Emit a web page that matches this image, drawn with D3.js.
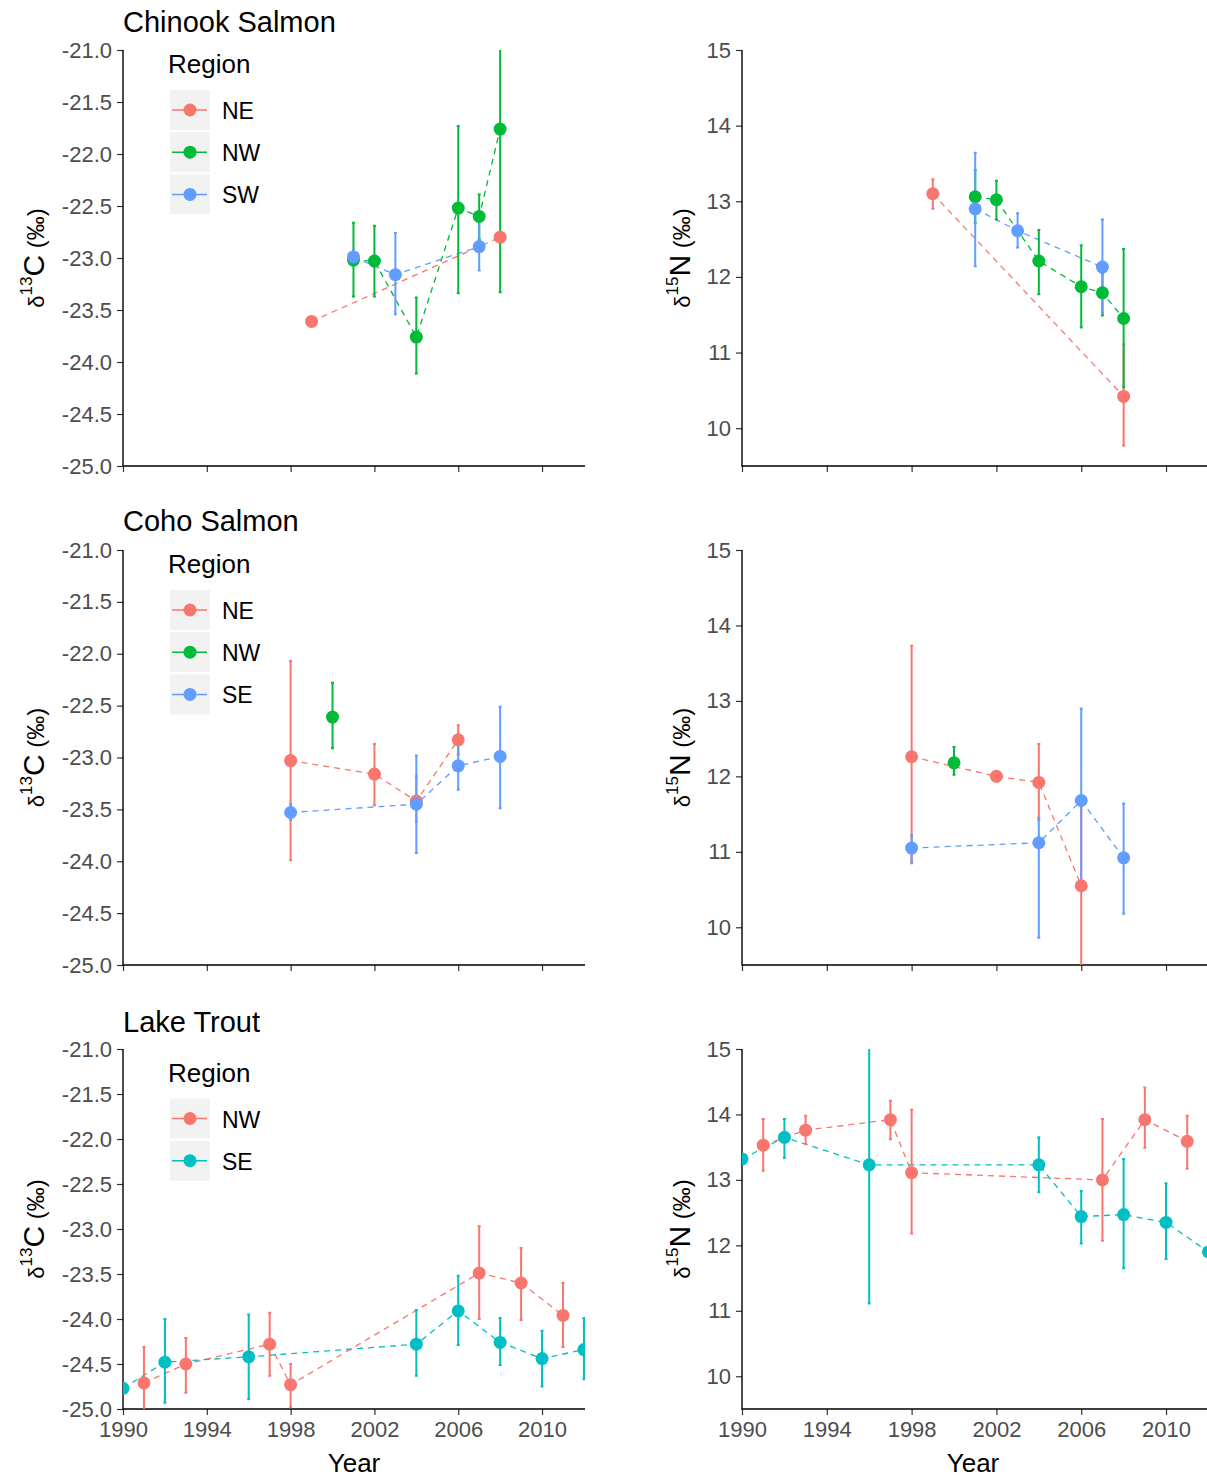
<!DOCTYPE html>
<html>
<head>
<meta charset="utf-8">
<script src="https://cdn.jsdelivr.net/npm/d3@7"></script>
<style>
  body { margin: 0; background: #fff; }
  svg { display: block; }
  text { font-family: "Liberation Sans", Arial, sans-serif; }
</style>
</head>
<body>
<svg id="chart" width="1207" height="1479"></svg>
<script>
// ---- data: rows are [year, mean, upper, lower] ----
const chinookC_NE = [[1999, -23.61, -23.59, -23.63], [2008, -22.80, -22.75, -22.85]];
const chinookC_NW = [[2001, -23.02, -22.66, -23.37], [2002, -23.03, -22.69, -23.37], [2004, -23.76, -23.38, -24.11],
                     [2006, -22.52, -21.73, -23.34], [2007, -22.60, -22.39, -22.82], [2008, -21.76, -20.98, -23.33]];
const chinookC_SW = [[2001, -22.99, -22.92, -23.07], [2003, -23.16, -22.76, -23.54], [2007, -22.89, -22.57, -23.12]];

const chinookN_NE = [[1999, 13.10, 13.29, 12.90], [2008, 10.42, 11.11, 9.77]];
const chinookN_NW = [[2001, 13.06, 13.41, 12.71], [2002, 13.02, 13.27, 12.76], [2004, 12.21, 12.62, 11.77],
                     [2006, 11.87, 12.42, 11.33], [2007, 11.79, 12.05, 11.49], [2008, 11.45, 12.37, 10.54]];
const chinookN_SW = [[2001, 12.90, 13.64, 12.14], [2003, 12.61, 12.84, 12.39], [2007, 12.13, 12.76, 11.53]];

const cohoC_NE = [[1998, -23.03, -22.07, -23.99], [2002, -23.16, -22.87, -23.46], [2004, -23.42, -23.18, -23.62], [2006, -22.83, -22.69, -22.97]];
const cohoC_NW = [[2000, -22.61, -22.28, -22.91]];
const cohoC_SE = [[1998, -23.53, -23.45, -23.60], [2004, -23.45, -22.98, -23.92], [2006, -23.08, -22.87, -23.31], [2008, -22.99, -22.51, -23.49]];

const cohoN_NE = [[1998, 12.26, 13.73, 10.85], [2002, 12.00, 12.02, 11.98], [2004, 11.92, 12.43, 11.42], [2006, 10.55, 11.60, 9.40]];
const cohoN_NW = [[2000, 12.18, 12.39, 12.02]];
const cohoN_SE = [[1998, 11.05, 11.22, 10.87], [2004, 11.12, 11.45, 9.86], [2006, 11.68, 12.90, 10.50], [2008, 10.92, 11.64, 10.18]];

const troutC_NW = [[1991, -24.71, -24.31, -25.05], [1993, -24.50, -24.21, -24.82], [1997, -24.28, -23.93, -24.63], [1998, -24.73, -24.50, -24.98],
                   [2007, -23.49, -22.97, -24.00], [2009, -23.60, -23.21, -24.01], [2011, -23.96, -23.60, -24.31]];
const troutC_SE = [[1990, -24.77, -24.72, -24.82], [1992, -24.48, -24.00, -24.93], [1996, -24.42, -23.95, -24.89], [2004, -24.28, -23.90, -24.63],
                   [2006, -23.91, -23.52, -24.29], [2008, -24.26, -23.99, -24.51], [2010, -24.44, -24.13, -24.75], [2012, -24.34, -23.99, -24.67]];

const troutN_NW = [[1991, 13.53, 13.93, 13.14], [1993, 13.76, 13.98, 13.55], [1997, 13.92, 14.21, 13.62], [1998, 13.11, 14.07, 12.18],
                   [2007, 13.00, 13.93, 12.07], [2009, 13.92, 14.41, 13.49], [2011, 13.59, 13.98, 13.17]];
const troutN_SE = [[1990, 13.32, 13.37, 13.27], [1992, 13.65, 13.93, 13.34], [1996, 13.23, 15.10, 11.11], [2004, 13.23, 13.65, 12.81],
                   [2006, 12.44, 12.83, 12.03], [2008, 12.47, 13.32, 11.65], [2010, 12.35, 12.95, 11.79], [2012, 11.90, 12.20, 11.60]];

const species = ["Chinook Salmon", "Coho Salmon", "Lake Trout"];
const chinookRegions = ["NE", "NW", "SW"];
const cohoRegions = ["NE", "NW", "SE"];
const troutRegions = ["NW", "SE"];

const xTicks = [1990, 1994, 1998, 2002, 2006, 2010];
const carbonTicks = [-21.0, -21.5, -22.0, -22.5, -23.0, -23.5, -24.0, -24.5, -25.0];
const nitrogenTicks = [10, 11, 12, 13, 14, 15];

// ggplot2 default hue palettes
const hue3 = ["#F8766D", "#00BA38", "#619CFF"];
const hue2 = ["#F8766D", "#00BFC4"];

// ---- layout ----
const rows = [
  { top: 50,   bottom: 466,  titleY: 32,   legendY: 73,    regions: chinookRegions, colors: hue3,
    carbon: [chinookC_NE, chinookC_NW, chinookC_SW], nitrogen: [chinookN_NE, chinookN_NW, chinookN_SW] },
  { top: 550,  bottom: 965,  titleY: 531,  legendY: 573,   regions: cohoRegions, colors: hue3,
    carbon: [cohoC_NE, cohoC_NW, cohoC_SE], nitrogen: [cohoN_NE, cohoN_NW, cohoN_SE] },
  { top: 1049, bottom: 1409, titleY: 1032, legendY: 1081.5, regions: troutRegions, colors: hue2,
    carbon: [troutC_NW, troutC_SE], nitrogen: [troutN_NW, troutN_SE] }
];
// plain hyphen-minus tick labels
const carbonFmt = d => d.toFixed(1);
const nitrogenFmt = d => String(d);
const cols = [
  { x0: 123, x1: 585,    yTitleX: 44,  domain: [-25, -21], ticks: carbonTicks, fmt: carbonFmt, iso: "13", el: "C", key: "carbon" },
  { x0: 742, x1: 1209.5, yTitleX: 690, domain: [9.5, 15],  ticks: nitrogenTicks, fmt: nitrogenFmt, iso: "15", el: "N", key: "nitrogen" }
];

const svg = d3.select("#chart");
const defs = svg.append("defs");
const TICK = 6;

rows.forEach((row, ri) => {
  const isBottom = ri === rows.length - 1;

  svg.append("text")
    .attr("x", 123).attr("y", row.titleY)
    .attr("font-size", 29).attr("fill", "#000")
    .text(species[ri]);

  cols.forEach((col, ci) => {
    const x = d3.scaleLinear().domain([1990, 2012.05]).range([col.x0, col.x1]);
    const y = d3.scaleLinear().domain(col.domain).range([row.bottom, row.top]);
    const g = svg.append("g");

    const clipId = `clip-${ri}-${ci}`;
    defs.append("clipPath").attr("id", clipId)
      .append("rect")
      .attr("x", col.x0).attr("y", row.top)
      .attr("width", col.x1 - col.x0).attr("height", row.bottom - row.top);

    // axes
    const yAxis = d3.axisLeft(y).tickValues(col.ticks).tickFormat(col.fmt).tickSize(TICK).tickPadding(5);
    const gy = g.append("g").attr("transform", `translate(${col.x0},0)`).call(yAxis);
    const xAxis = d3.axisBottom(x).tickValues(xTicks).tickFormat(isBottom ? d3.format("d") : () => "")
      .tickSize(TICK).tickPadding(6);
    const gx = g.append("g").attr("transform", `translate(0,${row.bottom})`).call(xAxis);
    [gx, gy].forEach(a => {
      a.select(".domain").attr("d", null);
      a.selectAll(".tick line").attr("stroke", "#333").attr("stroke-width", 1.2);
      a.selectAll(".tick text").attr("fill", "#4D4D4D").attr("font-size", 22)
        .attr("font-family", "'Liberation Sans', Arial, sans-serif");
    });
    // axis lines (L shape)
    g.append("path")
      .attr("d", `M${col.x0},${row.top}V${row.bottom}H${col.x1}`)
      .attr("fill", "none").attr("stroke", "#000").attr("stroke-width", 1.4);

    // y-axis title: delta notation
    const cy = (row.top + row.bottom) / 2;
    const t = g.append("text")
      .attr("transform", `translate(${col.yTitleX},${cy}) rotate(-90)`)
      .attr("text-anchor", "middle").attr("fill", "#000");
    t.append("tspan").attr("font-size", 22).text("δ");
    t.append("tspan").attr("font-size", 17).attr("dy", -12).text(col.iso);
    t.append("tspan").attr("font-size", 30).attr("dy", 12).text(col.el);
    t.append("tspan").attr("font-size", 24).text("\u00A0(‰)");

    if (isBottom) {
      g.append("text")
        .attr("x", (col.x0 + Math.min(col.x1, 1204)) / 2).attr("y", 1472)
        .attr("text-anchor", "middle").attr("font-size", 26).attr("fill", "#000")
        .text("Year");
    }

    // data layers
    const plot = g.append("g").attr("clip-path", `url(#${clipId})`);
    const seriesList = row[col.key];
    const line = d3.line().x(d => x(d[0])).y(d => y(d[1]));

    seriesList.forEach((s, si) => {
      plot.append("path").datum(s)
        .attr("d", line)
        .attr("fill", "none").attr("stroke", row.colors[si])
        .attr("stroke-width", 1.3).attr("stroke-dasharray", "6,5");
    });
    seriesList.forEach((s, si) => {
      const eb = plot.append("g").attr("stroke", row.colors[si]).attr("stroke-width", 2).attr("fill", "none");
      eb.selectAll("path").data(s).join("path")
        .attr("d", d => {
          const cx = x(d[0]), yh = y(d[2]), yl = y(d[3]);
          return `M${cx - 1.5},${yh}H${cx + 1.5}M${cx},${yh}V${yl}M${cx - 1.5},${yl}H${cx + 1.5}`;
        });
    });
    seriesList.forEach((s, si) => {
      plot.append("g").selectAll("circle").data(s).join("circle")
        .attr("cx", d => x(d[0])).attr("cy", d => y(d[1]))
        .attr("r", 6.5).attr("fill", row.colors[si]);
    });

    // legend (left column only)
    if (ci === 0) {
      const lg = svg.append("g");
      lg.append("text").attr("x", 168).attr("y", row.legendY)
        .attr("font-size", 26).attr("fill", "#000").text("Region");
      const keyTop = row.legendY + 17;
      row.regions.forEach((r, k) => {
        const ky = keyTop + k * 42.2;
        lg.append("rect").attr("x", 170).attr("y", ky).attr("width", 40).attr("height", 40).attr("fill", "#F2F2F2");
        lg.append("line").attr("x1", 172).attr("x2", 207).attr("y1", ky + 20).attr("y2", ky + 20)
          .attr("stroke", row.colors[k]).attr("stroke-width", 1.5);
        lg.append("circle").attr("cx", 190).attr("cy", ky + 20).attr("r", 6.5).attr("fill", row.colors[k]);
        lg.append("text").attr("x", 222).attr("y", ky + 29)
          .attr("font-size", 23).attr("fill", "#000").text(r);
      });
    }
  });
});
</script>
</body>
</html>
